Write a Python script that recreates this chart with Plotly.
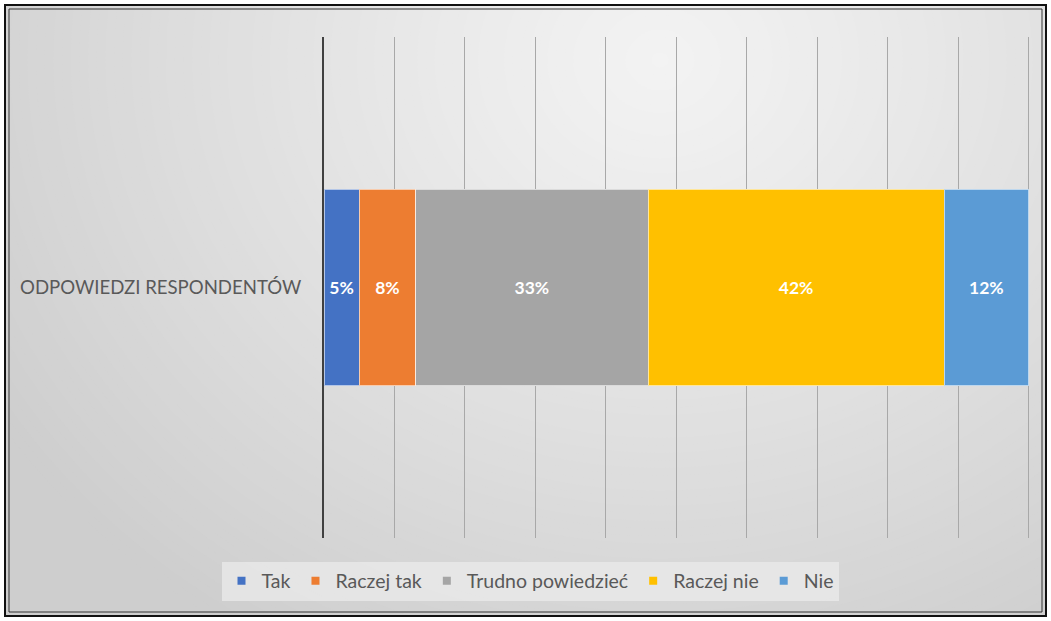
import plotly.graph_objects as go

# ---------------------------------------------------------------------------
# Data
# ---------------------------------------------------------------------------
CATEGORY = ["ODPOWIEDZI RESPONDENTÓW"]
ANSWERS = ["Tak", "Raczej tak", "Trudno powiedzieć", "Raczej nie", "Nie"]
SHARES = [5, 8, 33, 42, 12]  # percent
COLORS = ["#4472C4", "#ED7D31", "#A5A5A5", "#FFC000", "#5B9BD5"]

TEXT_GRAY = "#595959"
FONT = "Lato, 'Noto Sans', sans-serif"

# figure geometry (pixels)
W, H = 1051, 621
L, R, T, B = 324, 21, 37, 83
PW, PH = W - L - R, H - T - B


def px_x(px):
    return (px - L) / PW


def px_y(py):
    return (H - B - py) / PH


def grey(v):
    v = int(round(v))
    return f"rgb({v},{v},{v})"


fig = go.Figure()

# stacked segments
for name, share, color in zip(ANSWERS, SHARES, COLORS):
    fig.add_trace(go.Bar(
        y=CATEGORY,
        x=[share],
        orientation="h",
        name=name,
        marker=dict(color=color, line=dict(color="rgba(255,255,255,0.6)", width=1)),
        text=[f"{share}%"],
        textposition="inside",
        insidetextanchor="middle",
        textangle=0,
        constraintext="none",
        textfont=dict(color="white", size=17.5, family=FONT, weight="bold"),
        showlegend=False,
        hoverinfo="skip",
    ))

# legend entries with small square markers
for name, color in zip(ANSWERS, COLORS):
    fig.add_trace(go.Scatter(
        x=[None], y=[None], mode="markers", name=name,
        marker=dict(symbol="square", size=8, color=color),
    ))

# radial grey background, drawn as nested ellipses
shapes = []
cx, cy, rx, ry = 660, 60, 780, 680
steps = 90
c_edge, c_mid = 206, 243
for i in range(steps, 0, -1):
    t = i / steps
    shapes.append(dict(
        type="circle", xref="paper", yref="paper", layer="below",
        x0=px_x(cx - t * rx), x1=px_x(cx + t * rx),
        y0=px_y(cy + t * ry), y1=px_y(cy - t * ry),
        fillcolor=grey(c_mid + (c_edge - c_mid) * t ** 1.1), line_width=0,
    ))

# white outer margin and double frame
shapes.append(dict(type="rect", xref="paper", yref="paper", layer="below",
                   x0=px_x(0), x1=px_x(W), y0=px_y(H), y1=px_y(0),
                   line=dict(color="white", width=9), fillcolor="rgba(0,0,0,0)"))
shapes.append(dict(type="rect", xref="paper", yref="paper", layer="above",
                   x0=px_x(5), x1=px_x(W - 5), y0=px_y(H - 5), y1=px_y(5),
                   line=dict(color="#111111", width=2)))
shapes.append(dict(type="rect", xref="paper", yref="paper", layer="above",
                   x0=px_x(9), x1=px_x(W - 9), y0=px_y(H - 9), y1=px_y(9),
                   line=dict(color="#333333", width=1)))

fig.update_layout(
    width=W, height=H,
    margin=dict(l=L, r=R, t=T, b=B, autoexpand=False),
    paper_bgcolor=grey(c_edge),
    plot_bgcolor="rgba(0,0,0,0)",
    font=dict(family=FONT, color=TEXT_GRAY),
    barmode="stack",
    bargap=0.607,
    shapes=shapes,
    xaxis=dict(
        # a touch past 100 so the last gridline is still drawn
        range=[0, 100.2], tickvals=list(range(0, 101, 10)), showticklabels=False,
        showgrid=True, gridcolor="#A8A8A8", gridwidth=1,
        zeroline=False, fixedrange=True,
    ),
    yaxis=dict(
        type="category", showgrid=False, zeroline=False,
        showline=True, linecolor="#404040", linewidth=2,
        ticks="", ticklabelstandoff=17,
        tickfont=dict(size=18.6, color=TEXT_GRAY, family=FONT),
        fixedrange=True,
    ),
    legend=dict(
        orientation="h",
        xref="container", yref="container",
        x=530 / W, xanchor="center",
        y=(H - 581) / H, yanchor="middle",
        bgcolor="rgba(236,236,236,0.7)",
        font=dict(size=19.5, color=TEXT_GRAY, family=FONT),
        itemwidth=30,
        traceorder="normal",
    ),
)

fig.write_html(
    "out.html",
    config={"displayModeBar": False},
    post_script="document.body.style.margin='0';",
)
